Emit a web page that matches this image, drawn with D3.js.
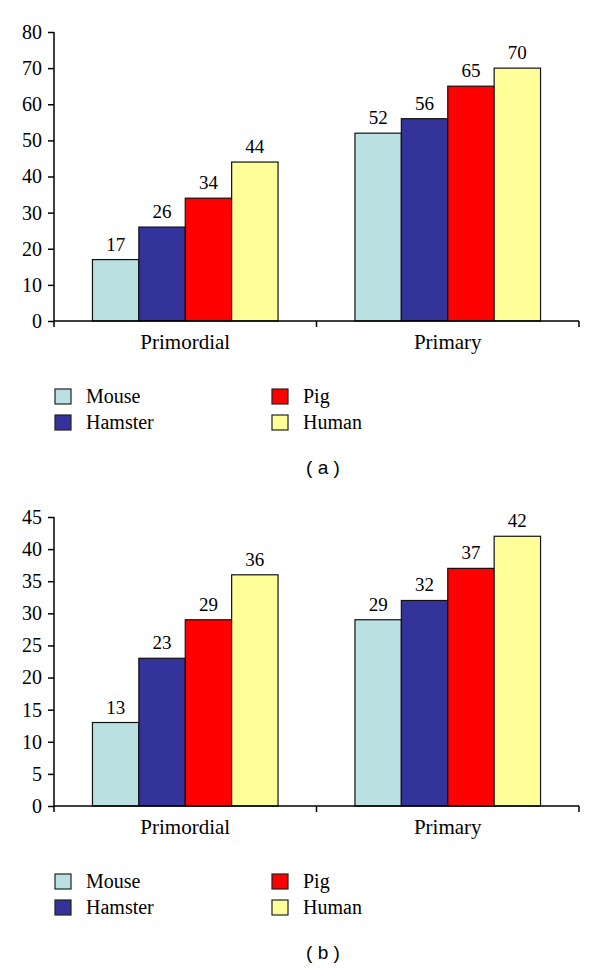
<!DOCTYPE html>
<html>
<head>
<meta charset="utf-8">
<script src="https://cdn.jsdelivr.net/npm/d3@7"></script>
<style>
  body { margin: 0; background: #fff; }
  svg text { font-family: "Liberation Serif", "DejaVu Serif", serif; fill: #000; }
</style>
</head>
<body>
<div id="chart"></div>
<script>
// data
const categories = ["Primordial", "Primary"];
const species = ["Mouse", "Hamster", "Pig", "Human"];
const colors = ["#bae0e1", "#333399", "#ff0000", "#ffff99"];

// panel (a)
const mouseA = [17, 52];
const hamsterA = [26, 56];
const pigA = [34, 65];
const humanA = [44, 70];
const ticksA = [0, 10, 20, 30, 40, 50, 60, 70, 80];

// panel (b)
const mouseB = [13, 29];
const hamsterB = [23, 32];
const pigB = [29, 37];
const humanB = [36, 42];
const ticksB = [0, 5, 10, 15, 20, 25, 30, 35, 40, 45];

const W = 600, H = 971;
const svg = d3.select("#chart").append("svg")
  .attr("width", W).attr("height", H);

function drawPanel(top, series, ticks, label) {
  const margin = { left: 54, right: 21 };
  const plotTop = top, plotBottom = top + 289;

  const x0 = d3.scaleBand()
    .domain(categories)
    .range([margin.left, W - margin.right])
    .paddingInner(0).paddingOuter(0);

  const x1 = d3.scaleBand()
    .domain(species)
    .range([0, x0.bandwidth() * 0.707]);
  const off = (x0.bandwidth() - x1.range()[1]) / 2;

  const y = d3.scaleLinear()
    .domain([0, d3.max(ticks)])
    .range([plotBottom, plotTop]);

  const g = svg.append("g");

  // bars
  species.forEach(function (s, si) {
    const vals = series[si];
    g.selectAll(null)
      .data(categories)
      .enter()
      .append("rect")
      .attr("x", d => x0(d) + off + x1(s))
      .attr("y", (d, i) => y(vals[i]))
      .attr("width", x1.bandwidth())
      .attr("height", (d, i) => plotBottom - y(vals[i]))
      .attr("fill", colors[si])
      .attr("stroke", "#111")
      .attr("stroke-width", 1.2);

    g.selectAll(null)
      .data(categories)
      .enter()
      .append("text")
      .attr("x", d => x0(d) + off + x1(s) + x1.bandwidth() / 2)
      .attr("y", (d, i) => y(vals[i]) - 9)
      .attr("text-anchor", "middle")
      .style("font-size", "19px")
      .text((d, i) => vals[i]);
  });

  // y axis
  const yAxis = g.append("g")
    .attr("transform", `translate(${margin.left},0)`)
    .call(d3.axisLeft(y).tickValues(ticks).tickSize(6).tickPadding(6).tickSizeOuter(0));
  yAxis.selectAll("text")
    .style("font-size", "20px")
    .style("font-family", '"Liberation Serif", serif');
  yAxis.select(".domain").attr("stroke", "#000").attr("stroke-width", 1.5)
    .attr("d", `M0,${plotTop}V${plotBottom}`);
  yAxis.selectAll(".tick line").attr("stroke", "#000").attr("stroke-width", 1.5);

  // x axis
  const xAxis = g.append("g")
    .attr("transform", `translate(0,${plotBottom})`)
    .call(d3.axisBottom(x0).tickSize(0).tickPadding(13));
  xAxis.select(".domain").attr("stroke", "#000").attr("stroke-width", 1.5)
    .attr("d", `M${margin.left},0H${W - margin.right}`);
  xAxis.selectAll("text")
    .style("font-size", "21px")
    .style("font-family", '"Liberation Serif", serif');
  // band boundary ticks
  const bounds = [margin.left].concat(categories.map(c => x0(c) + x0.bandwidth()));
  xAxis.selectAll(".bound")
    .data(bounds)
    .enter()
    .append("line")
    .attr("x1", d => d).attr("x2", d => d)
    .attr("y1", 0).attr("y2", 6)
    .attr("stroke", "#000").attr("stroke-width", 1.5);

  // legend
  const legCols = [55, 272];
  species.forEach(function (s, si) {
    const col = (si === 0 || si === 1) ? 0 : 1;
    const row = (si === 0 || si === 2) ? 0 : 1;
    const gx = legCols[col];
    const gy = plotBottom + 68 + row * 26;
    g.append("rect")
      .attr("x", gx).attr("y", gy)
      .attr("width", 16).attr("height", 15)
      .attr("fill", colors[si])
      .attr("stroke", "#222").attr("stroke-width", 1.2);
    g.append("text")
      .attr("x", gx + 31).attr("y", gy + 14)
      .style("font-size", "20px")
      .text(s);
  });

  g.append("text")
    .attr("x", 323).attr("y", plotBottom + 153)
    .attr("text-anchor", "middle")
    .style("font-size", "19px")
    .style("font-family", '"Liberation Sans", Arial, sans-serif')
    .attr("xml:space", "preserve")
    .text(label);
}

drawPanel(32, [mouseA, hamsterA, pigA, humanA], ticksA, "( a )");
drawPanel(517, [mouseB, hamsterB, pigB, humanB], ticksB, "( b )");
</script>
</body>
</html>
